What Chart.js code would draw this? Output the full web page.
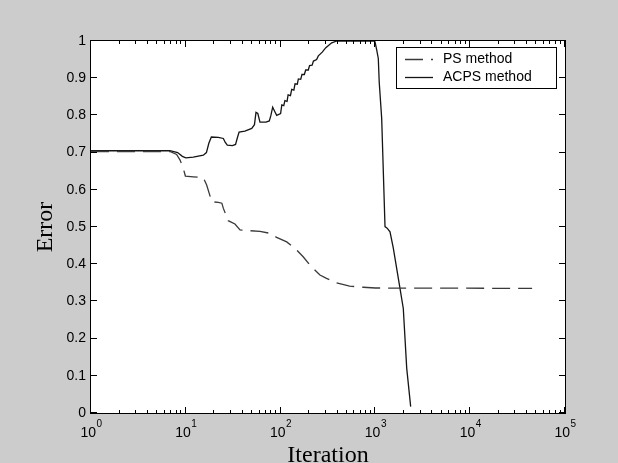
<!DOCTYPE html>
<html>
<head>
<meta charset="utf-8">
<script src="https://cdn.jsdelivr.net/npm/chart.js@4.4.0/dist/chart.umd.min.js"></script>
<style>
  html, body { margin: 0; padding: 0; background: #cccccc; }
  #wrap { width: 618px; height: 463px; position: relative; }
</style>
</head>
<body>
<div id="wrap"><canvas id="errorChart"></canvas></div>
<script>
// axis ticks
const xDecades = [0, 1, 2, 3, 4, 5];
const yTicks = [0, 0.1, 0.2, 0.3, 0.4, 0.5, 0.6, 0.7, 0.8, 0.9, 1];

// PS method (dash-dot)
const psIter = [1, 2.5, 6.8, 8, 8.7, 9.4, 9.9, 12, 15.3, 16.6, 18.8, 22, 24, 24.9, 28, 33, 37.3, 47.6, 60.6, 77.4, 90.8, 116, 148, 173, 203, 260, 305, 390, 535, 745, 1000, 45000];
const psError = [0.703, 0.703, 0.703, 0.695, 0.680, 0.658, 0.637, 0.635, 0.633, 0.613, 0.568, 0.566, 0.564, 0.550, 0.517, 0.508, 0.492, 0.490, 0.488, 0.483, 0.472, 0.460, 0.438, 0.420, 0.398, 0.371, 0.362, 0.350, 0.341, 0.338, 0.336, 0.335];

// ACPS method (solid)
const acpsIter = [1, 3, 6.8, 8.2, 9.2, 10, 12, 15.3, 16.5, 17.5, 18.6, 22, 24.9, 26, 27.4, 31, 33.5, 35, 36.5, 42, 49.6, 53, 55, 57.5, 60.6, 70, 76, 79, 82.5, 87, 91, 100, 103, 108, 111, 117, 120, 127, 131, 138, 142, 150, 154, 163, 168, 178, 184, 196, 202, 215, 222, 240, 250, 275, 300, 346, 392, 950, 990, 1032, 1073, 1097, 1165, 1263, 1330, 1426, 1545, 1817, 1969, 2140, 2356];
const acpsError = [0.705, 0.705, 0.705, 0.700, 0.690, 0.686, 0.688, 0.693, 0.700, 0.725, 0.742, 0.741, 0.738, 0.728, 0.720, 0.719, 0.722, 0.740, 0.755, 0.758, 0.765, 0.775, 0.808, 0.805, 0.782, 0.782, 0.785, 0.800, 0.822, 0.810, 0.800, 0.805, 0.828, 0.826, 0.840, 0.838, 0.855, 0.853, 0.870, 0.868, 0.885, 0.884, 0.898, 0.897, 0.910, 0.910, 0.922, 0.922, 0.934, 0.935, 0.946, 0.950, 0.960, 0.970, 0.982, 0.995, 1.0, 1.0, 0.998, 0.976, 0.953, 0.890, 0.792, 0.501, 0.497, 0.487, 0.443, 0.335, 0.281, 0.120, 0.017];

const seriesNames = ["PS method", "ACPS method"];

function toPoints(xs, ys) {
  return xs.map((v, i) => ({ x: v, y: ys[i] }));
}

Chart.defaults.font.family = "'Liberation Sans', Arial, sans-serif";
Chart.defaults.color = "#000000";

// MATLAB-style box, inward ticks, 10^n labels and framed legend
const matlabAxes = {
  id: "matlabAxes",
  beforeDraw(chart) {
    const { ctx, chartArea: a } = chart;
    ctx.save();
    ctx.fillStyle = "#ffffff";
    ctx.fillRect(a.left, a.top, a.right - a.left, a.bottom - a.top);
    ctx.restore();
  },
  afterDraw(chart) {
    const { ctx, chartArea: a } = chart;
    const xs = chart.scales.x;
    const ys = chart.scales.y;
    ctx.save();
    ctx.strokeStyle = "#000000";
    ctx.lineWidth = 1;
    ctx.strokeRect(a.left - 0.5, a.top - 0.5, a.right - a.left + 1, a.bottom - a.top + 1);

    ctx.beginPath();
    yTicks.forEach((v) => {
      const py = Math.round(ys.getPixelForValue(v)) - 0.5;
      ctx.moveTo(a.left, py);
      ctx.lineTo(a.left + 6, py);
      ctx.moveTo(a.right, py);
      ctx.lineTo(a.right - 6, py);
    });
    xDecades.forEach((k) => {
      for (let m = 1; m <= 9; m++) {
        const v = m * Math.pow(10, k);
        if (v > xs.max) break;
        const px = Math.round(xs.getPixelForValue(v)) - 0.5;
        const len = m === 1 ? 6 : 3;
        ctx.moveTo(px, a.bottom);
        ctx.lineTo(px, a.bottom - len);
        ctx.moveTo(px, a.top);
        ctx.lineTo(px, a.top + len);
      }
    });
    ctx.stroke();

    // decade labels with superscript exponent
    ctx.fillStyle = "#000000";
    ctx.textBaseline = "alphabetic";
    ctx.textAlign = "left";
    const baseFont = "14px 'Liberation Sans', Arial, sans-serif";
    const supFont = "10px 'Liberation Sans', Arial, sans-serif";
    xDecades.forEach((k) => {
      const px = xs.getPixelForValue(Math.pow(10, k));
      ctx.font = baseFont;
      const w1 = ctx.measureText("10").width;
      ctx.font = supFont;
      const w2 = ctx.measureText(String(k)).width;
      const start = px - (w1 + w2) / 2;
      ctx.font = baseFont;
      ctx.fillText("10", start, 437);
      ctx.font = supFont;
      ctx.fillText(String(k), start + w1 + 0.5, 427);
    });

    // legend box
    const box = { left: 396.5, top: 47.5, right: 556.5, bottom: 88.5 };
    ctx.fillStyle = "#ffffff";
    ctx.fillRect(box.left, box.top, box.right - box.left, box.bottom - box.top);
    ctx.strokeStyle = "#000000";
    ctx.setLineDash([]);
    ctx.strokeRect(box.left, box.top, box.right - box.left, box.bottom - box.top);
    ctx.font = "14px 'Liberation Sans', Arial, sans-serif";
    ctx.textBaseline = "middle";
    chart.data.datasets.forEach((ds, i) => {
      const ly = 59.5 + i * 18;
      ctx.strokeStyle = ds.borderColor;
      ctx.lineWidth = ds.borderWidth;
      ctx.setLineDash(ds.borderDash || []);
      ctx.beginPath();
      ctx.moveTo(405, ly);
      ctx.lineTo(433, ly);
      ctx.stroke();
      ctx.setLineDash([]);
      ctx.fillStyle = "#000000";
      ctx.fillText(ds.label, 443, ly);
    });
    ctx.restore();
  }
};

const ctx = document.getElementById("errorChart").getContext("2d");
const errorChart = new Chart(ctx, {
  type: "line",
  data: {
    datasets: [
      {
        label: seriesNames[0],
        data: toPoints(psIter, psError),
        borderColor: "#3a3a3a",
        borderWidth: 1.3,
        borderDash: [18, 8],
        pointRadius: 0,
        tension: 0,
        fill: false
      },
      {
        label: seriesNames[1],
        data: toPoints(acpsIter, acpsError),
        borderColor: "#151515",
        borderWidth: 1.3,
        pointRadius: 0,
        tension: 0,
        fill: false
      }
    ]
  },
  options: {
    responsive: true,
    maintainAspectRatio: false,
    animation: false,
    layout: { padding: { left: 0, right: 53, top: 41, bottom: 0 } },
    plugins: {
      legend: { display: false },
      tooltip: { enabled: false }
    },
    scales: {
      x: {
        type: "logarithmic",
        min: 1,
        max: 100000,
        grid: { display: false },
        border: { display: false },
        ticks: { display: false },
        title: {
          display: true,
          text: "Iteration",
          font: { family: "'Liberation Serif', 'Times New Roman', serif", size: 24, lineHeight: 1 },
          padding: { top: 0, bottom: -5 }
        },
        afterFit(scale) { scale.height = 50; }
      },
      y: {
        min: 0,
        max: 1,
        grid: { display: false, drawTicks: false },
        border: { display: false },
        ticks: {
          stepSize: 0.1,
          padding: 5,
          font: { size: 14 },
          color: "#000000",
          callback: (v) => String(Number(v.toFixed(1)))
        },
        title: {
          display: true,
          text: "Error",
          font: { family: "'Liberation Serif', 'Times New Roman', serif", size: 24, lineHeight: 1 },
          padding: { top: 34, bottom: 0 }
        },
        afterFit(scale) { scale.width = 91; }
      }
    }
  },
  plugins: [matlabAxes]
});
</script>
</body>
</html>
